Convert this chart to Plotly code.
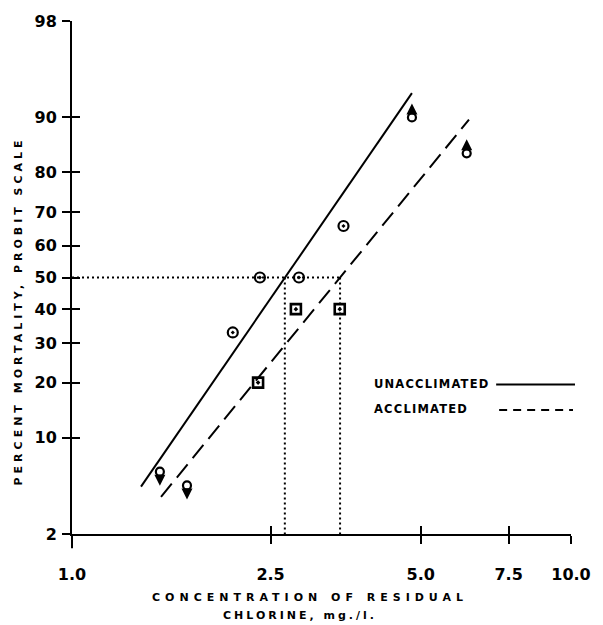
import math
import plotly.graph_objects as go
from statistics import NormalDist

_nd = NormalDist()


def probit(p):
    return _nd.inv_cdf(p / 100.0)


# ---------------- data ----------------
unacc_conc = [1.50, 2.10, 2.38, 2.85, 3.50, 4.80]
unacc_mort = [6.0, 33.0, 50.0, 50.0, 66.0, 90.0]
unacc_flag = ["down", "", "", "", "", "up"]

acc_conc = [1.70, 2.36, 2.81, 3.44, 6.18]
acc_mort = [4.8, 20.0, 40.0, 40.0, 84.0]
acc_flag = ["down", "", "", "", "up"]

unacc_fit_conc = [1.375, 4.80]
unacc_fit_mort = [4.7, 93.0]
acc_fit_conc = [1.508, 6.245]
acc_fit_mort = [3.95, 89.7]

lc50_unacc = 2.67
lc50_acc = 3.445

y_tick_values = [2, 10, 20, 30, 40, 50, 60, 70, 80, 90, 98]
x_tick_values = [1.0, 2.5, 5.0, 7.5, 10.0]
x_tick_text = ["1.0", "2.5", "5.0", "7.5", "10.0"]

# ---------------- figure ----------------
BLACK = "#000000"
FONT = "DejaVu Sans"

fig = go.Figure()


def split(conc, mort, flag, want_flag):
    xs, ys = [], []
    for c, m, f in zip(conc, mort, flag):
        if (f != "") == want_flag:
            xs.append(c)
            ys.append(probit(m))
    return xs, ys


# regression lines
fig.add_trace(go.Scatter(
    x=unacc_fit_conc, y=[probit(v) for v in unacc_fit_mort], mode="lines",
    line=dict(color=BLACK, width=2), showlegend=False, hoverinfo="skip"))
fig.add_trace(go.Scatter(
    x=acc_fit_conc, y=[probit(v) for v in acc_fit_mort], mode="lines",
    line=dict(color=BLACK, width=2, dash="17px,8px"), showlegend=False, hoverinfo="skip"))

# dotted LC50 guides
dot = dict(color=BLACK, width=2, dash="2px,3px")
fig.add_trace(go.Scatter(
    x=[1.0, lc50_acc], y=[probit(50), probit(50)], mode="lines",
    line=dot, showlegend=False, hoverinfo="skip"))
fig.add_trace(go.Scatter(
    x=[lc50_unacc, lc50_unacc], y=[probit(50), probit(2)], mode="lines",
    line=dot, showlegend=False, hoverinfo="skip"))
fig.add_trace(go.Scatter(
    x=[lc50_acc, lc50_acc], y=[probit(50), probit(2)], mode="lines",
    line=dot, showlegend=False, hoverinfo="skip"))

# data points
ux, uy = split(unacc_conc, unacc_mort, unacc_flag, False)
fig.add_trace(go.Scatter(
    x=ux, y=uy, mode="markers", showlegend=False,
    marker=dict(symbol="circle-open-dot", size=10, color=BLACK, line=dict(width=2.2, color=BLACK))))
ax_, ay_ = split(acc_conc, acc_mort, acc_flag, False)
fig.add_trace(go.Scatter(
    x=ax_, y=ay_, mode="markers", showlegend=False,
    marker=dict(symbol="square-open-dot", size=10, color=BLACK, line=dict(width=2.6, color=BLACK))))
fx = [c for c, f in zip(unacc_conc, unacc_flag) if f] + [c for c, f in zip(acc_conc, acc_flag) if f]
fy = [probit(m) for m, f in zip(unacc_mort, unacc_flag) if f] + [probit(m) for m, f in zip(acc_mort, acc_flag) if f]
fig.add_trace(go.Scatter(
    x=fx, y=fy, mode="markers", showlegend=False,
    marker=dict(symbol="circle-open", size=8, color=BLACK, line=dict(width=2.2, color=BLACK))))

# arrows on censored points
annotations = []
for conc, mort, flag in ((unacc_conc, unacc_mort, unacc_flag), (acc_conc, acc_mort, acc_flag)):
    for c, m, f in zip(conc, mort, flag):
        if not f:
            continue
        down = f == "down"
        annotations.append(dict(
            x=math.log10(c), y=probit(m), xref="x", yref="y", text="",
            showarrow=True, arrowhead=2, arrowsize=1.1, arrowwidth=2, arrowcolor=BLACK,
            ax=0, ay=-8 if down else 8, yshift=-14 if down else 14))

# axis titles and legend text
bold11 = dict(family=FONT, size=11, color=BLACK, weight="bold")
annotations += [
    dict(text='<span style="letter-spacing:5px">CONCENTRATION OF RESIDUAL</span>',
         x=0.477, y=-0.124, xref="paper", yref="paper", showarrow=False,
         font=bold11, xanchor="center", yanchor="middle"),
    dict(text='<span style="letter-spacing:3px">CHLORINE, mg./l.</span>',
         x=0.457, y=-0.159, xref="paper", yref="paper", showarrow=False,
         font=bold11, xanchor="center", yanchor="middle"),
    dict(text='<span style="letter-spacing:4px">PERCENT MORTALITY, PROBIT SCALE</span>',
         x=-0.108, y=0.434, xref="paper", yref="paper", showarrow=False, textangle=-90,
         font=bold11, xanchor="center", yanchor="middle"),
    dict(text='<span style="letter-spacing:1.2px">UNACCLIMATED</span>',
         x=0.602, y=0.2915, xref="paper", yref="paper", showarrow=False,
         font=dict(family=FONT, size=11.5, color=BLACK, weight="bold"), xanchor="left", yanchor="middle"),
    dict(text='<span style="letter-spacing:1.2px">ACCLIMATED</span>',
         x=0.602, y=0.2443, xref="paper", yref="paper", showarrow=False,
         font=dict(family=FONT, size=11.5, color=BLACK, weight="bold"), xanchor="left", yanchor="middle"),
]

shapes = [
    dict(type="line", xref="paper", yref="paper", x0=0.850, x1=1.008, y0=0.2915, y1=0.2915,
         line=dict(color=BLACK, width=2)),
    dict(type="line", xref="paper", yref="paper", x0=0.856, x1=1.004, y0=0.2418, y1=0.2418,
         line=dict(color=BLACK, width=2, dash="8px,6px")),
    dict(type="line", xref="paper", yref="paper", x0=0, x1=0, y0=-0.028, y1=0,
         line=dict(color=BLACK, width=2)),
]

# dummy trace for overlay (inner tick) axes
fig.add_trace(go.Scatter(x=[], y=[], xaxis="x2", yaxis="y2", showlegend=False, hoverinfo="skip"))

yr = [probit(y_tick_values[0]), probit(y_tick_values[-1])]
ytv = [probit(v) for v in y_tick_values]
ytt = [str(v) for v in y_tick_values]
tickfont = dict(family=FONT, size=16, color=BLACK, weight="bold")

fig.update_layout(
    width=603, height=625,
    margin=dict(l=72, r=32, t=17, b=91),
    paper_bgcolor="white", plot_bgcolor="white",
    showlegend=False,
    xaxis=dict(type="log", range=[0, 1], showgrid=False, zeroline=False,
               showline=True, linecolor=BLACK, linewidth=2,
               ticks="outside", ticklen=8, tickwidth=2, tickcolor=BLACK,
               tickvals=x_tick_values, ticktext=x_tick_text, tickfont=tickfont,
               ticklabelstandoff=17),
    yaxis=dict(range=yr, showgrid=False, zeroline=False,
               showline=True, linecolor=BLACK, linewidth=2,
               ticks="outside", ticklen=8, tickwidth=2, tickcolor=BLACK,
               tickvals=ytv, ticktext=ytt, tickfont=tickfont, ticklabelstandoff=2),
    xaxis2=dict(type="log", range=[0, 1], overlaying="x", anchor="y2", side="bottom",
                showgrid=False, zeroline=False, showline=False,
                ticks="inside", ticklen=8, tickwidth=2, tickcolor=BLACK,
                tickvals=x_tick_values, showticklabels=False),
    yaxis2=dict(range=yr, overlaying="y", anchor="x2", side="left",
                showgrid=False, zeroline=False, showline=False,
                ticks="inside", ticklen=8, tickwidth=2, tickcolor=BLACK,
                tickvals=ytv, showticklabels=False),
    annotations=annotations,
    shapes=shapes,
)

fig.write_html(
    "out.html",
    config={"displayModeBar": False},
    post_script="document.body.style.margin='0';document.body.style.overflow='hidden';",
)
